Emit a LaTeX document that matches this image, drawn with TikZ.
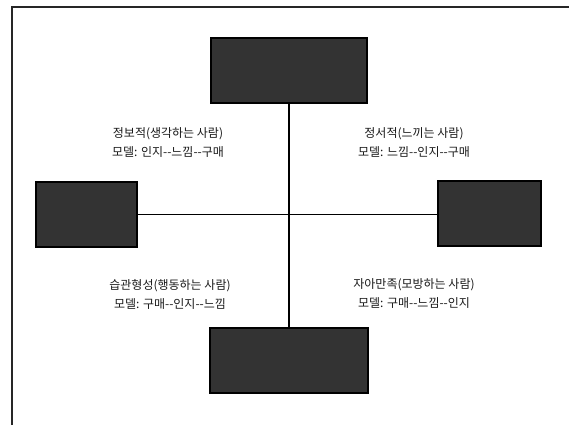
\documentclass[tikz,border=0pt]{standalone}
\usepackage{fontspec}
\newfontfamily\kr{Noto Sans CJK KR}
\begin{document}
\begin{tikzpicture}[x=1pt,y=-1pt,
  darkbox/.style={draw=black,line width=1.4pt,fill=black!80,minimum width=#1,inner sep=0pt,minimum height=65pt},
  lbl/.style={align=center,font=\kr\fontsize{12}{19}\selectfont,text=black!90,inner sep=0pt},
  conn/.style={line width=1.3pt,draw=black}]
\useasboundingbox (0,0) rectangle (569,425);
\coordinate (fa) at (12,425);
\coordinate (fb) at (12,7);
\coordinate (fc) at (569,7);
\draw[line width=1.4pt,black!85] (fa) -- (fb) -- (fc);
\node[darkbox=156pt] (top) at (289,70.5) {};
\node[darkbox=101pt] (left) at (86.5,214.5) {};
\node[darkbox=103pt] (right) at (489.5,213.5) {};
\node[darkbox=158pt] (bottom) at (289,360.5) {};
\draw[conn] (top.south) -- (bottom.north);
\draw[conn] (left.east) -- (right.west |- left.east);
\node[lbl] (tl) at (168,143) {정보적(생각하는 사람)\\모델: 인지--느낌--구매};
\node[lbl] (tr) at (414,143) {정서적(느끼는 사람)\\모델: 느낌--인지--구매};
\node[lbl] (bl) at (170,294) {습관형성(행동하는 사람)\\모델: 구매--인지--느낌};
\node[lbl] (br) at (414,294) {자아만족(모방하는 사람)\\모델: 구매--느낌--인지};
\end{tikzpicture}
\end{document}
